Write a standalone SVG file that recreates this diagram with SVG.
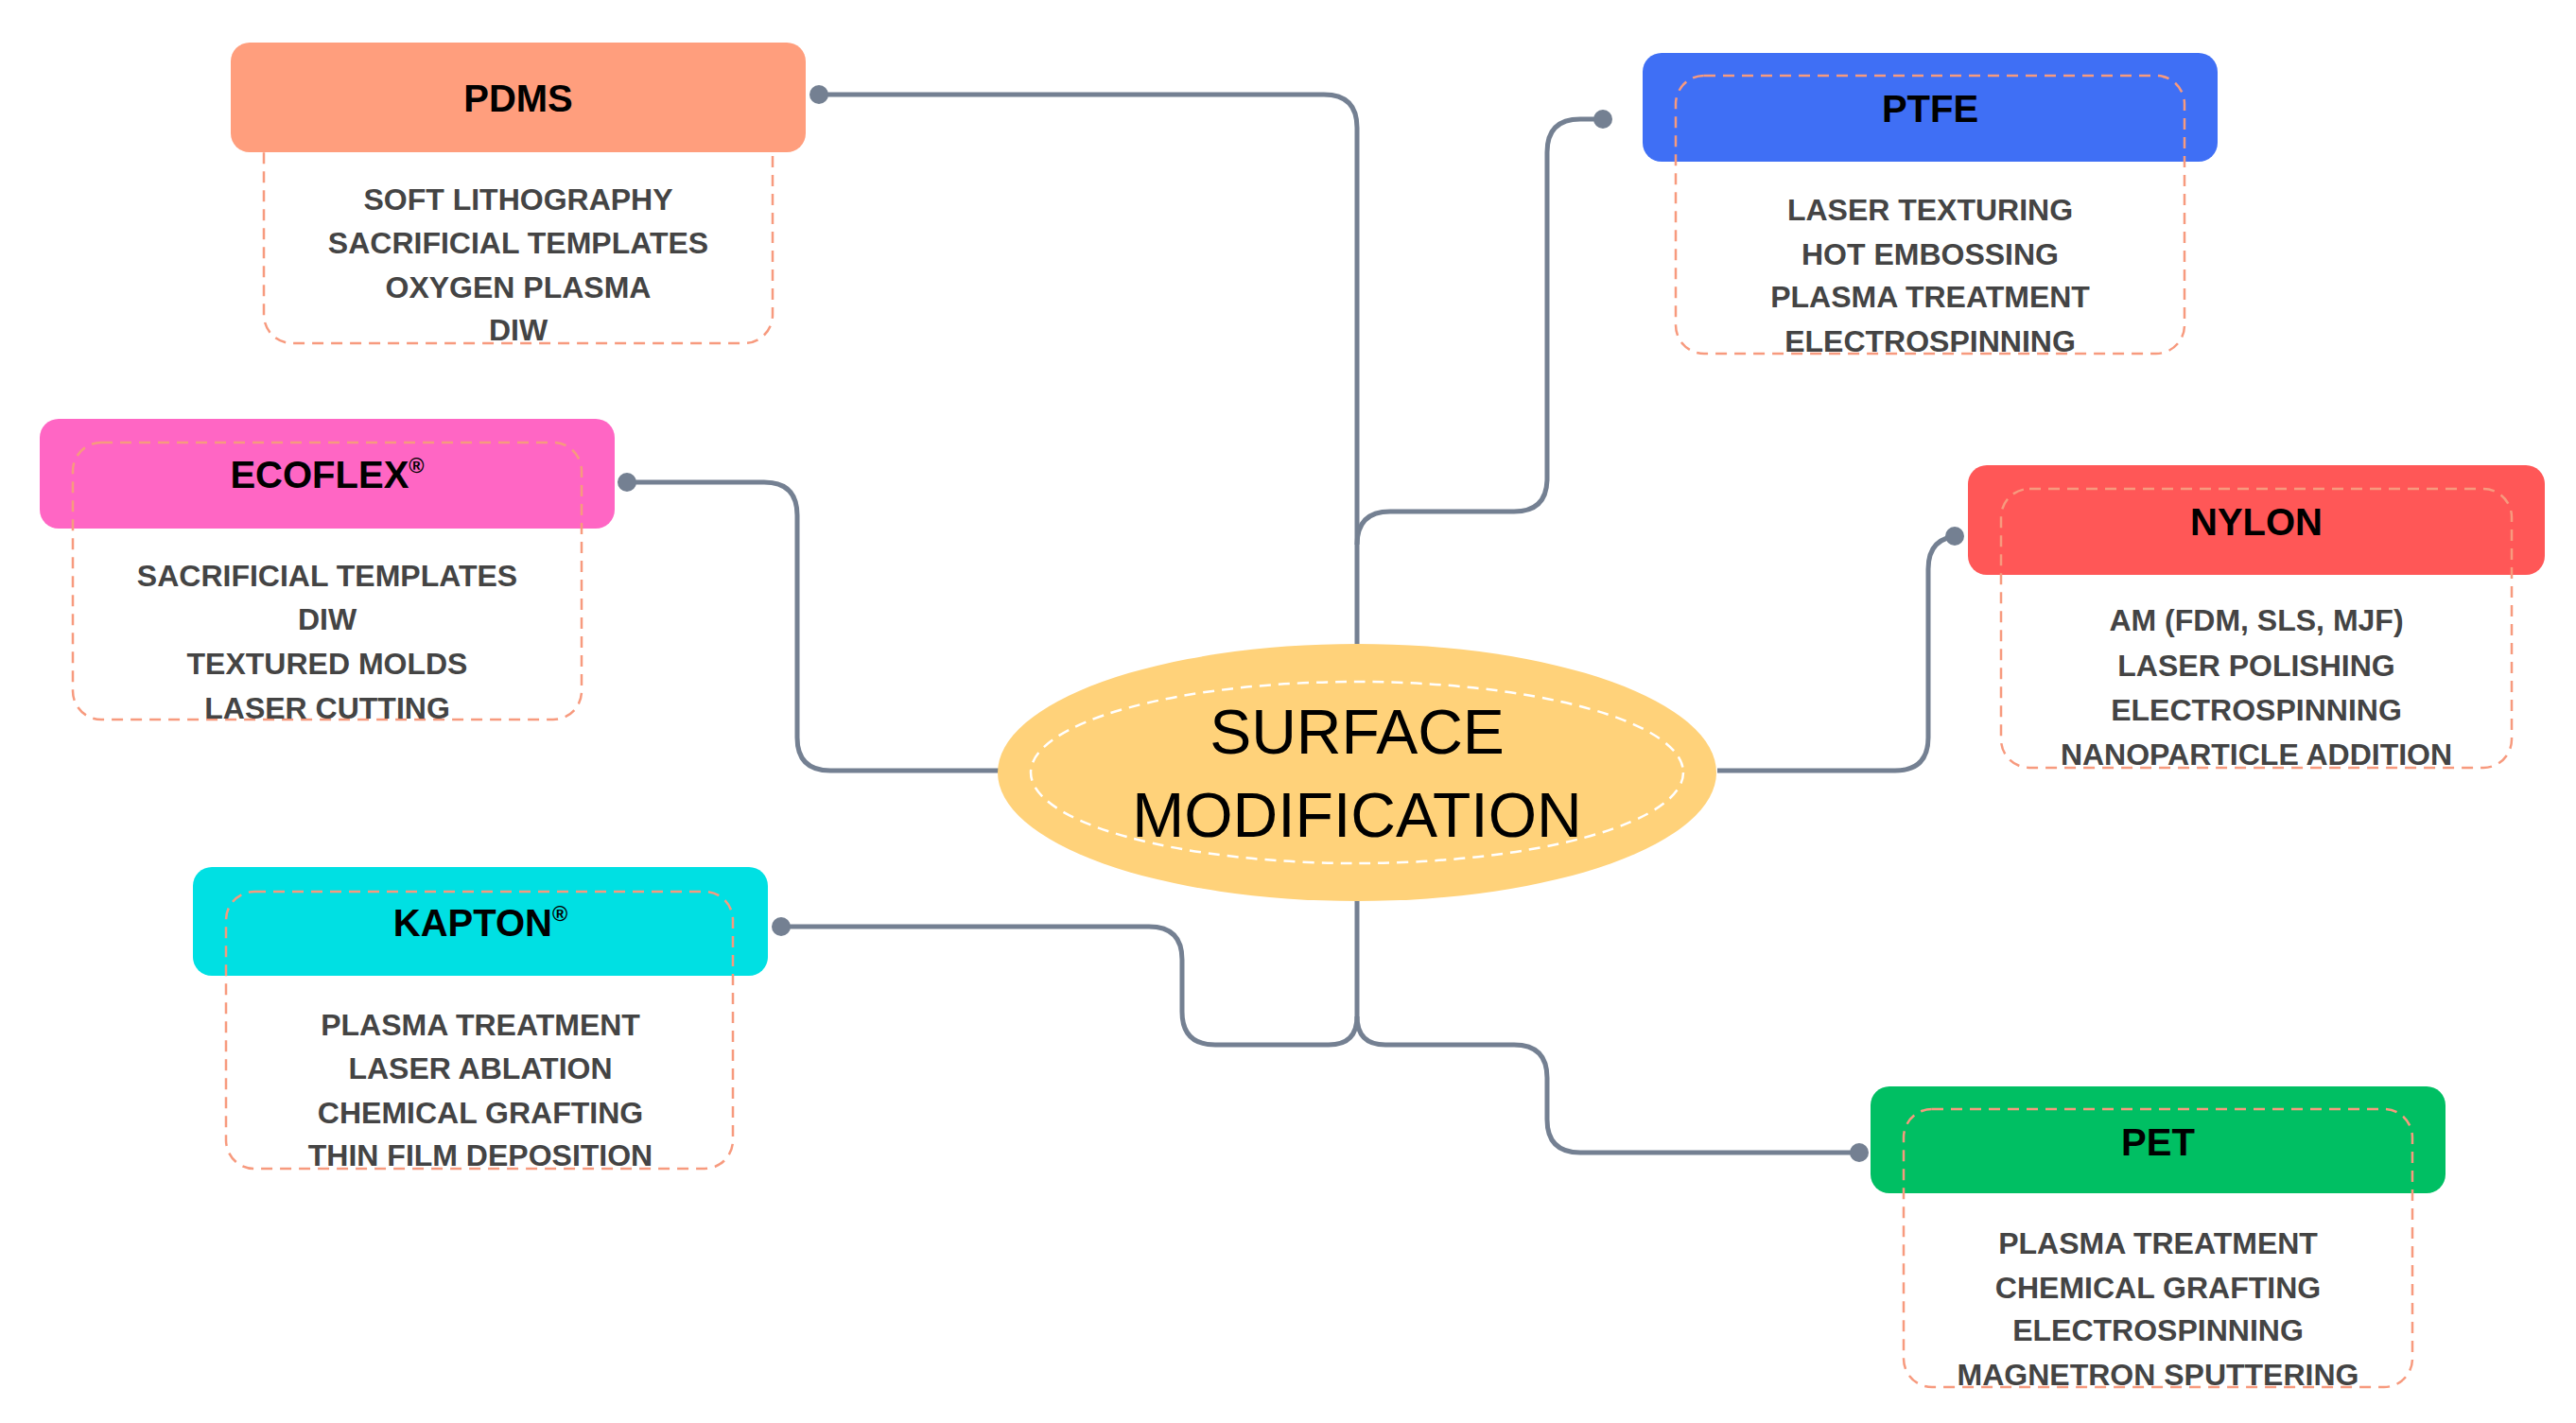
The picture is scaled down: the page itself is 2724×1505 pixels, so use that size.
<svg xmlns="http://www.w3.org/2000/svg" width="2724" height="1505" viewBox="0 0 2724 1505">
<style>
.hd{font-family:"Liberation Sans",Arial,sans-serif;font-weight:bold;font-size:40px;fill:#000;text-anchor:middle}
.bd{font-family:"Liberation Sans",Arial,sans-serif;font-weight:bold;font-size:32px;fill:#444;text-anchor:middle}
.dash{fill:none;stroke:#F79A7E;stroke-width:2.5;stroke-dasharray:12 8}
.con{fill:none;stroke:#748092;stroke-width:5}
.dot{fill:#748092}
</style>
<rect width="2724" height="1505" fill="#fff"/>
<g id="connectors">
<path class="con" d="M866,100 H1400 Q1435,100 1435,135 V681"/>
<path class="con" d="M1695,126 H1671 Q1636,126 1636,161 V506 Q1636,541 1601,541 H1470 Q1435,541 1435,576"/>
<path class="con" d="M663,510 H808 Q843,510 843,545 V780 Q843,815 878,815 H1056"/>
<path class="con" d="M1816,815 H2004 Q2039,815 2039,780 V602 Q2039,567 2074,567"/>
<path class="con" d="M826,980 H1215 Q1250,980 1250,1015 V1070 Q1250,1105 1285,1105 H1405 Q1435,1105 1435,1075 V953"/>
<path class="con" d="M1435,1075 Q1435,1105 1465,1105 H1601 Q1636,1105 1636,1140 V1184 Q1636,1219 1671,1219 H1966"/>
<circle class="dot" cx="866" cy="100" r="10"/>
<circle class="dot" cx="1695" cy="126" r="10"/>
<circle class="dot" cx="663" cy="510" r="10"/>
<circle class="dot" cx="2067" cy="567" r="10"/>
<circle class="dot" cx="826" cy="980" r="10"/>
<circle class="dot" cx="1966" cy="1219" r="10"/>
</g>
<g id="center">
<ellipse cx="1435" cy="817" rx="380" ry="136" fill="#FFD27A"/>
<ellipse cx="1435" cy="817" rx="345" ry="96" fill="none" stroke="#fff" stroke-width="2.5" stroke-dasharray="12 8"/>
<text x="1435" y="797" font-family="Liberation Sans, Arial, sans-serif" font-size="66" text-anchor="middle" fill="#000">SURFACE</text>
<text x="1435" y="885" font-family="Liberation Sans, Arial, sans-serif" font-size="66" text-anchor="middle" fill="#000">MODIFICATION</text>
</g>
<g id="pdms">
<rect class="dash" x="279" y="120" width="538" height="243" rx="30"/>
<rect x="244" y="45" width="608" height="116" rx="20" fill="#FF9E7D"/>
<text class="hd" x="548" y="118">PDMS</text>
<text class="bd" x="548" y="222">SOFT LITHOGRAPHY</text>
<text class="bd" x="548" y="268">SACRIFICIAL TEMPLATES</text>
<text class="bd" x="548" y="315">OXYGEN PLASMA</text>
<text class="bd" x="548" y="360">DIW</text>
</g>
<g id="ptfe">
<rect x="1737" y="56" width="608" height="115" rx="20" fill="#3F6FF5"/>
<rect class="dash" x="1772" y="80" width="538" height="294" rx="30"/>
<text class="hd" x="2041" y="129">PTFE</text>
<text class="bd" x="2041" y="233">LASER TEXTURING</text>
<text class="bd" x="2041" y="280">HOT EMBOSSING</text>
<text class="bd" x="2041" y="325">PLASMA TREATMENT</text>
<text class="bd" x="2041" y="372">ELECTROSPINNING</text>
</g>
<g id="ecoflex">
<rect x="42" y="443" width="608" height="116" rx="20" fill="#FF66C4"/>
<rect class="dash" x="77" y="468" width="538" height="293" rx="30"/>
<text class="hd" x="346" y="516">ECOFLEX<tspan font-size="22" dy="-16">®</tspan></text>
<text class="bd" x="346" y="620">SACRIFICIAL TEMPLATES</text>
<text class="bd" x="346" y="666">DIW</text>
<text class="bd" x="346" y="713">TEXTURED MOLDS</text>
<text class="bd" x="346" y="760">LASER CUTTING</text>
</g>
<g id="nylon">
<rect x="2081" y="492" width="610" height="116" rx="20" fill="#FF5757"/>
<rect class="dash" x="2116" y="517" width="540" height="295" rx="30"/>
<text class="hd" x="2386" y="566">NYLON</text>
<text class="bd" x="2386" y="667">AM (FDM, SLS, MJF)</text>
<text class="bd" x="2386" y="715">LASER POLISHING</text>
<text class="bd" x="2386" y="762">ELECTROSPINNING</text>
<text class="bd" x="2386" y="809">NANOPARTICLE ADDITION</text>
</g>
<g id="kapton">
<rect x="204" y="917" width="608" height="115" rx="20" fill="#00E0E3"/>
<rect class="dash" x="239" y="943" width="536" height="293" rx="30"/>
<text class="hd" x="508" y="990">KAPTON<tspan font-size="22" dy="-16">®</tspan></text>
<text class="bd" x="508" y="1095">PLASMA TREATMENT</text>
<text class="bd" x="508" y="1141">LASER ABLATION</text>
<text class="bd" x="508" y="1188">CHEMICAL GRAFTING</text>
<text class="bd" x="508" y="1233">THIN FILM DEPOSITION</text>
</g>
<g id="pet">
<rect x="1978" y="1149" width="608" height="113" rx="20" fill="#00BF63"/>
<rect class="dash" x="2013" y="1173" width="538" height="294" rx="30"/>
<text class="hd" x="2282" y="1222">PET</text>
<text class="bd" x="2282" y="1326">PLASMA TREATMENT</text>
<text class="bd" x="2282" y="1373">CHEMICAL GRAFTING</text>
<text class="bd" x="2282" y="1418">ELECTROSPINNING</text>
<text class="bd" x="2282" y="1465">MAGNETRON SPUTTERING</text>
</g>
</svg>
